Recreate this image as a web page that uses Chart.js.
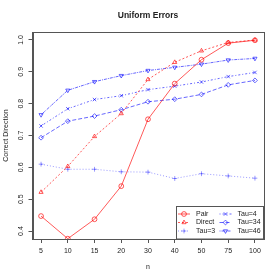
<!DOCTYPE html>
<html>
<head>
<meta charset="utf-8">
<script src="https://cdn.jsdelivr.net/npm/chart.js@4/dist/chart.umd.min.js"></script>
<style>
  html, body { margin: 0; padding: 0; background: #fff; }
  #wrap { width: 280px; height: 280px; }
</style>
</head>
<body>
<div id="wrap"><canvas id="c" width="280" height="280"></canvas></div>
<script>
// values
const nLabels = ["5", "10", "15", "20", "30", "40", "50", "75", "100"];
const yTicks = [0.4, 0.5, 0.6, 0.7, 0.8, 0.9, 1.0];

const pair   = [0.447, 0.376, 0.437, 0.541, 0.751, 0.863, 0.938, 0.990, 0.999];
const direct = [0.522, 0.603, 0.697, 0.769, 0.876, 0.930, 0.966, 0.992, 1.000];
const tau3   = [0.610, 0.594, 0.594, 0.586, 0.585, 0.565, 0.580, 0.573, 0.566];
const tau4   = [0.730, 0.784, 0.813, 0.825, 0.844, 0.855, 0.868, 0.885, 0.898];
const tau34  = [0.693, 0.745, 0.761, 0.781, 0.806, 0.814, 0.829, 0.859, 0.873];
const tau46  = [0.765, 0.842, 0.869, 0.888, 0.904, 0.914, 0.924, 0.937, 0.942];

const RED = "rgba(255,0,0,0.65)";
const BLUE = "rgba(0,0,255,0.6)";
const BLUE_LIGHT = "rgba(0,0,255,0.4)";
const FONT = "'Liberation Sans', Arial, sans-serif";
const MARK = 2.4;

const toPoints = arr => arr.map((y, i) => ({ x: i + 1, y }));

const series = (label, values, color, dash, style, rotation) => ({
    label,
    data: toPoints(values),
    borderColor: color,
    borderWidth: 1,
    borderDash: dash,
    pointStyle: style,
    pointRotation: rotation || 0,
    pointRadius: MARK,
    pointBorderColor: color,
    pointBorderWidth: 1,
    pointBackgroundColor: "rgba(0,0,0,0)",
    fill: false,
    tension: 0
});

// text, box and legend drawn R-style
const rDecor = {
    id: "rDecor",
    afterDraw(chart) {
        const { ctx, chartArea: a, scales } = chart;
        ctx.save();
        ctx.strokeStyle = "#555";
        ctx.lineWidth = 1;
        ctx.strokeRect(Math.round(a.left) + 0.5, Math.round(a.top) + 0.5,
            Math.round(a.right - a.left), Math.round(a.bottom - a.top));

        ctx.fillStyle = "#222";
        ctx.textAlign = "center";
        ctx.textBaseline = "middle";
        ctx.font = "bold 8.5px " + FONT;
        ctx.fillText("Uniform Errors", (a.left + a.right) / 2, 16);

        ctx.font = "7px " + FONT;
        ctx.fillText("n", (a.left + a.right) / 2, 267);

        // rotated y tick labels
        yTicks.forEach(v => {
            const y = scales.y.getPixelForValue(v);
            ctx.save();
            ctx.translate(21, y);
            ctx.rotate(-Math.PI / 2);
            ctx.fillText(v.toFixed(1), 0, 0);
            ctx.restore();
        });
        ctx.save();
        ctx.translate(6.5, (a.top + a.bottom) / 2);
        ctx.rotate(-Math.PI / 2);
        ctx.fillText("Correct Direction", 0, 0);
        ctx.restore();

        // legend
        const lx = 176.5, ly = 206.5, lw = a.right - lx, lh = a.bottom - ly;
        ctx.fillStyle = "#fff";
        ctx.fillRect(lx, ly, lw, lh);
        ctx.strokeStyle = "#555";
        ctx.strokeRect(lx, ly, lw, lh);
        const cols = [178, 219.5];
        const rows = [214, 222.5, 231];
        chart.data.datasets.forEach((ds, i) => {
            const x0 = cols[Math.floor(i / 3)], y0 = rows[i % 3];
            ctx.strokeStyle = ds.borderColor;
            ctx.lineWidth = 1;
            ctx.setLineDash(ds.borderDash);
            ctx.beginPath();
            ctx.moveTo(x0, y0);
            ctx.lineTo(x0 + 12, y0);
            ctx.stroke();
            ctx.setLineDash([]);
            ctx.fillStyle = "rgba(0,0,0,0)";
            ctx.strokeStyle = ds.borderColor;
            Chart.helpers.drawPoint(ctx, {
                pointStyle: ds.pointStyle,
                rotation: ds.pointRotation,
                radius: MARK,
                borderWidth: 1
            }, x0 + 6, y0);
            ctx.fillStyle = "#222";
            ctx.textAlign = "left";
            ctx.font = "7px " + FONT;
            ctx.fillText(ds.label, x0 + 18, y0);
        });
        ctx.restore();
    }
};

new Chart(document.getElementById("c"), {
    type: "line",
    data: {
        datasets: [
            series("Pair", pair, RED, [], "circle"),
            series("Direct", direct, RED, [2, 2], "triangle"),
            series("Tau=3", tau3, BLUE_LIGHT, [1, 2], "cross"),
            series("Tau=4", tau4, BLUE, [1, 2, 2, 2], "crossRot"),
            series("Tau=34", tau34, BLUE, [4, 2], "rectRot"),
            series("Tau=46", tau46, BLUE, [1, 1, 3, 1], "triangle", 180)
        ]
    },
    options: {
        responsive: false,
        animation: false,
        layout: { padding: { left: 0, top: 32, right: 16.5, bottom: 0 } },
        plugins: { legend: { display: false }, title: { display: false }, tooltip: { enabled: false } },
        scales: {
            x: {
                type: "linear",
                min: 0.68,
                max: 9.32,
                afterBuildTicks: s => { s.ticks = nLabels.map((_, i) => ({ value: i + 1 })); },
                afterFit: s => { s.height = 41; },
                grid: { drawOnChartArea: false, drawTicks: true, tickLength: 4, color: "#555" },
                border: { display: true, color: "#555" },
                ticks: {
                    callback: v => nLabels[v - 1],
                    color: "#222",
                    font: { family: FONT, size: 7 },
                    padding: 4,
                    maxRotation: 0,
                    autoSkip: false
                }
            },
            y: {
                min: 0.375,
                max: 1.025,
                afterBuildTicks: s => { s.ticks = yTicks.map(v => ({ value: v })); },
                afterFit: s => { s.width = 32.5; },
                grid: { drawOnChartArea: false, drawTicks: true, tickLength: 4, color: "#555" },
                border: { display: true, color: "#555" },
                ticks: { display: false }
            }
        }
    },
    plugins: [rDecor]
});
</script>
</body>
</html>
